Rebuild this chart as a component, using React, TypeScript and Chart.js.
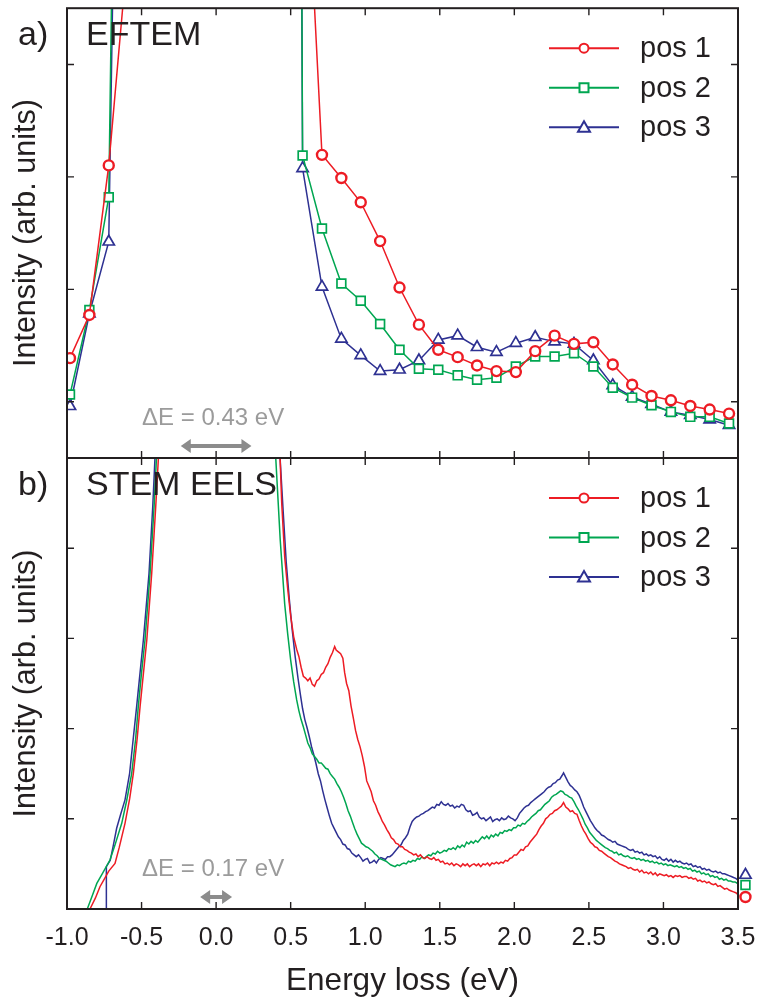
import React, { useEffect, useRef } from 'react';
import { Chart, registerables } from 'chart.js';

Chart.register(...registerables);

const FONT = "'Liberation Sans', Arial, Helvetica, sans-serif";
const INK = '#231f20';
const RED = '#ed1c24';
const GREEN = '#00a651';
const BLUE = '#2e3192';
const GREY_TEXT = '#9b9b9b';
const GREY_ARROW = '#8c8c8c';

const xTickValues = [-1.0, -0.5, 0.0, 0.5, 1.0, 1.5, 2.0, 2.5, 3.0, 3.5];
const xTickLabels = ['-1.0', '-0.5', '0.0', '0.5', '1.0', '1.5', '2.0', '2.5', '3.0', '3.5'];
const seriesNames = ['pos 1', 'pos 2', 'pos 3'];
const panelLabels = ['a)', 'b)'];
const panelTitles = ['EFTEM', 'STEM EELS'];
const energyResolution = [0.43, 0.17];
const xAxisTitle = 'Energy loss (eV)';
const yAxisTitle = 'Intensity (arb. units)';

// (a) EFTEM – energy-filtered series on a common energy grid
const eftemEnergy = [-0.98, -0.85, -0.72, -0.59, -0.46, -0.33, -0.20, -0.07, 0.06, 0.19, 0.32, 0.45, 0.58,
  0.71, 0.84, 0.97, 1.10, 1.23, 1.36, 1.49, 1.62, 1.75, 1.88, 2.01, 2.14, 2.27, 2.40, 2.53, 2.66, 2.79,
  2.92, 3.05, 3.18, 3.31, 3.44];
const eftemPos1 = [0.888, 1.272, 2.602, 4.55, 14, 40, 80, 100, 100, 70, 35, 15, 6.1,
  2.696, 2.49, 2.274, 1.929, 1.516, 1.186, 0.962, 0.897, 0.823, 0.773, 0.764, 0.95, 1.088, 1.015, 1.029,
  0.832, 0.652, 0.552, 0.513, 0.463, 0.431, 0.395];
const eftemPos2 = [0.564, 1.316, 2.319, 14.6, 40, 80, 100, 100, 100, 100, 80, 40, 2.69,
  2.041, 1.552, 1.398, 1.192, 0.962, 0.793, 0.785, 0.735, 0.696, 0.714, 0.814, 0.903, 0.903, 0.932, 0.814,
  0.625, 0.537, 0.469, 0.41, 0.366, 0.366, 0.307];
const eftemPos3 = [0.46, 1.283, 1.923, 12.7, 40, 80, 100, 100, 100, 100, 80, 40, 2.575,
  1.522, 1.059, 0.912, 0.773, 0.785, 0.867, 1.05, 1.088, 0.985, 0.941, 1.021, 1.074, 1.035, 1.015, 0.867,
  0.646, 0.543, 0.478, 0.41, 0.381, 0.342, 0.292];

// (b) STEM EELS – [energy (eV), intensity]
const stemPos1: [number, number][] = [
  [-0.87, -0.05], [-0.846, 0], [-0.81, 0.12], [-0.779, 0.247], [-0.75, 0.33], [-0.72, 0.42], [-0.678, 0.506],
  [-0.65, 0.68], [-0.611, 0.95], [-0.58, 1.22], [-0.555, 1.504], [-0.53, 1.88], [-0.51, 2.243], [-0.487, 2.62],
  [-0.465, 2.98], [-0.432, 3.72], [-0.405, 4.46], [-0.387, 5.0], [-0.3, 9], [-0.2, 20], [0, 40], [0.2, 20],
  [0.35, 8], [0.429, 5.0], [0.44, 4.5], [0.46, 3.9], [0.48, 3.55], [0.5, 3.25], [0.52, 3.02], [0.54, 2.88],
  [0.555, 2.8], [0.57, 2.68], [0.585, 2.58], [0.6, 2.56], [0.615, 2.53], [0.63, 2.56], [0.645, 2.49],
  [0.66, 2.47], [0.675, 2.53], [0.69, 2.55], [0.705, 2.6], [0.72, 2.62], [0.735, 2.68], [0.75, 2.72],
  [0.765, 2.79], [0.78, 2.84], [0.795, 2.91], [0.805, 2.87], [0.82, 2.85], [0.835, 2.83], [0.85, 2.78],
  [0.862, 2.62], [0.875, 2.5], [0.89, 2.42], [0.905, 2.25], [0.92, 2.12], [0.935, 1.98], [0.95, 1.88],
  [0.965, 1.8], [0.98, 1.7], [0.995, 1.58], [1.01, 1.42], [1.025, 1.36], [1.04, 1.3], [1.055, 1.2],
  [1.07, 1.15], [1.085, 1.08], [1.1, 1.03], [1.115, 0.97], [1.13, 0.93], [1.145, 0.88], [1.16, 0.84],
  [1.175, 0.79], [1.19, 0.77], [1.205, 0.73], [1.22, 0.72], [1.235, 0.69], [1.25, 0.69], [1.265, 0.66],
  [1.28, 0.65], [1.295, 0.63], [1.31, 0.62], [1.325, 0.6], [1.34, 0.61], [1.355, 0.58], [1.37, 0.6],
  [1.385, 0.57], [1.4, 0.56], [1.415, 0.58], [1.43, 0.56], [1.445, 0.55], [1.46, 0.57], [1.475, 0.54],
  [1.49, 0.55], [1.505, 0.52], [1.52, 0.53], [1.535, 0.5], [1.55, 0.51], [1.565, 0.49], [1.58, 0.51],
  [1.595, 0.48], [1.61, 0.5], [1.625, 0.49], [1.64, 0.47], [1.655, 0.5], [1.67, 0.48], [1.685, 0.5],
  [1.7, 0.47], [1.715, 0.49], [1.73, 0.5], [1.745, 0.48], [1.76, 0.5], [1.775, 0.47], [1.79, 0.5],
  [1.805, 0.49], [1.82, 0.51], [1.835, 0.48], [1.85, 0.51], [1.865, 0.5], [1.88, 0.52], [1.895, 0.5],
  [1.91, 0.52], [1.925, 0.51], [1.94, 0.54], [1.955, 0.53], [1.97, 0.56], [1.985, 0.57], [2.0, 0.6],
  [2.015, 0.6], [2.03, 0.63], [2.045, 0.66], [2.06, 0.65], [2.075, 0.69], [2.09, 0.7], [2.105, 0.74],
  [2.12, 0.77], [2.135, 0.8], [2.15, 0.83], [2.165, 0.88], [2.18, 0.92], [2.195, 0.95], [2.21, 1.0],
  [2.225, 1.02], [2.24, 1.05], [2.255, 1.06], [2.27, 1.09], [2.285, 1.1], [2.3, 1.12], [2.315, 1.14],
  [2.33, 1.18], [2.345, 1.13], [2.36, 1.11], [2.375, 1.08], [2.39, 1.09], [2.405, 1.06], [2.42, 1.05],
  [2.435, 0.98], [2.45, 0.92], [2.465, 0.87], [2.48, 0.83], [2.495, 0.78], [2.51, 0.74], [2.525, 0.72],
  [2.54, 0.69], [2.555, 0.68], [2.57, 0.65], [2.585, 0.64], [2.6, 0.62], [2.615, 0.6], [2.63, 0.58],
  [2.645, 0.57], [2.66, 0.55], [2.675, 0.53], [2.69, 0.52], [2.705, 0.5], [2.72, 0.49], [2.735, 0.48],
  [2.75, 0.47], [2.765, 0.45], [2.78, 0.46], [2.795, 0.44], [2.81, 0.43], [2.825, 0.44], [2.84, 0.41],
  [2.855, 0.43], [2.87, 0.4], [2.885, 0.41], [2.9, 0.39], [2.915, 0.41], [2.93, 0.38], [2.945, 0.4],
  [2.96, 0.37], [2.975, 0.39], [2.99, 0.38], [3.005, 0.37], [3.02, 0.38], [3.035, 0.36], [3.05, 0.37],
  [3.065, 0.35], [3.08, 0.37], [3.095, 0.36], [3.11, 0.37], [3.125, 0.35], [3.14, 0.36], [3.155, 0.36],
  [3.17, 0.34], [3.185, 0.35], [3.2, 0.33], [3.215, 0.34], [3.23, 0.31], [3.245, 0.32], [3.26, 0.3],
  [3.275, 0.31], [3.29, 0.29], [3.305, 0.3], [3.32, 0.28], [3.335, 0.27], [3.35, 0.28], [3.365, 0.25],
  [3.38, 0.26], [3.395, 0.24], [3.41, 0.22], [3.425, 0.23], [3.44, 0.21], [3.455, 0.2], [3.47, 0.19],
  [3.485, 0.18], [3.5, 0.16], [3.55, 0.13],
];
const stemPos2: [number, number][] = [
  [-0.88, -0.05], [-0.864, 0], [-0.83, 0.15], [-0.8, 0.284], [-0.76, 0.4], [-0.712, 0.543], [-0.68, 0.7],
  [-0.633, 0.95], [-0.6, 1.2], [-0.566, 1.504], [-0.54, 1.88], [-0.522, 2.243], [-0.5, 2.62], [-0.477, 2.98],
  [-0.443, 3.72], [-0.416, 4.46], [-0.4, 5.0], [-0.3, 10], [-0.2, 20], [0, 40], [0.2, 20], [0.33, 8],
  [0.4, 5.0], [0.43, 4.09], [0.46, 3.38], [0.48, 3.05], [0.5, 2.76], [0.52, 2.52], [0.54, 2.32], [0.555, 2.2],
  [0.57, 2.1], [0.585, 2.02], [0.6, 1.93], [0.615, 1.84], [0.63, 1.79], [0.645, 1.72], [0.66, 1.69],
  [0.675, 1.66], [0.69, 1.62], [0.705, 1.62], [0.72, 1.59], [0.735, 1.56], [0.75, 1.55], [0.765, 1.5],
  [0.78, 1.47], [0.795, 1.44], [0.81, 1.39], [0.825, 1.35], [0.84, 1.3], [0.855, 1.24], [0.87, 1.17],
  [0.885, 1.09], [0.9, 1.03], [0.915, 0.96], [0.93, 0.89], [0.945, 0.83], [0.96, 0.78], [0.975, 0.73],
  [0.99, 0.71], [1.005, 0.69], [1.02, 0.68], [1.035, 0.66], [1.05, 0.64], [1.065, 0.61], [1.08, 0.59],
  [1.095, 0.56], [1.11, 0.55], [1.125, 0.54], [1.14, 0.53], [1.155, 0.51], [1.17, 0.49], [1.185, 0.48],
  [1.2, 0.47], [1.215, 0.49], [1.23, 0.48], [1.245, 0.5], [1.26, 0.51], [1.275, 0.5], [1.29, 0.53],
  [1.305, 0.52], [1.32, 0.54], [1.335, 0.53], [1.35, 0.56], [1.365, 0.55], [1.38, 0.58], [1.395, 0.56],
  [1.41, 0.58], [1.425, 0.6], [1.44, 0.59], [1.455, 0.62], [1.47, 0.61], [1.485, 0.64], [1.5, 0.62],
  [1.515, 0.63], [1.53, 0.65], [1.545, 0.64], [1.56, 0.67], [1.575, 0.66], [1.59, 0.68], [1.605, 0.66],
  [1.62, 0.7], [1.635, 0.68], [1.65, 0.71], [1.665, 0.69], [1.68, 0.74], [1.695, 0.72], [1.71, 0.75],
  [1.725, 0.73], [1.74, 0.76], [1.755, 0.74], [1.77, 0.77], [1.785, 0.8], [1.8, 0.78], [1.815, 0.81],
  [1.83, 0.78], [1.845, 0.82], [1.86, 0.8], [1.875, 0.83], [1.89, 0.81], [1.905, 0.85], [1.92, 0.84],
  [1.935, 0.87], [1.95, 0.86], [1.965, 0.88], [1.98, 0.87], [1.995, 0.9], [2.01, 0.9], [2.025, 0.93],
  [2.04, 0.92], [2.055, 0.95], [2.07, 0.94], [2.085, 0.97], [2.1, 0.99], [2.115, 1.02], [2.13, 1.04],
  [2.145, 1.06], [2.16, 1.09], [2.175, 1.1], [2.19, 1.13], [2.205, 1.16], [2.22, 1.18], [2.235, 1.2],
  [2.25, 1.24], [2.265, 1.26], [2.28, 1.27], [2.295, 1.29], [2.31, 1.31], [2.325, 1.3], [2.34, 1.27],
  [2.355, 1.26], [2.37, 1.24], [2.385, 1.23], [2.4, 1.19], [2.415, 1.14], [2.43, 1.1], [2.445, 1.05],
  [2.46, 1.0], [2.475, 0.94], [2.49, 0.9], [2.505, 0.85], [2.52, 0.82], [2.535, 0.79], [2.55, 0.76],
  [2.565, 0.74], [2.58, 0.72], [2.595, 0.7], [2.61, 0.68], [2.625, 0.67], [2.64, 0.65], [2.655, 0.64],
  [2.67, 0.62], [2.685, 0.63], [2.7, 0.6], [2.715, 0.61], [2.73, 0.59], [2.745, 0.58], [2.76, 0.59],
  [2.775, 0.57], [2.79, 0.56], [2.805, 0.57], [2.82, 0.55], [2.835, 0.56], [2.85, 0.54], [2.865, 0.55],
  [2.88, 0.53], [2.895, 0.54], [2.91, 0.52], [2.925, 0.53], [2.94, 0.51], [2.955, 0.52], [2.97, 0.5],
  [2.985, 0.51], [3.0, 0.49], [3.015, 0.5], [3.03, 0.48], [3.045, 0.49], [3.06, 0.48], [3.075, 0.47],
  [3.09, 0.48], [3.105, 0.46], [3.12, 0.47], [3.135, 0.45], [3.15, 0.46], [3.165, 0.44], [3.18, 0.45],
  [3.195, 0.42], [3.21, 0.43], [3.225, 0.41], [3.24, 0.42], [3.255, 0.39], [3.27, 0.4], [3.285, 0.38],
  [3.3, 0.39], [3.315, 0.36], [3.33, 0.37], [3.345, 0.35], [3.36, 0.36], [3.375, 0.33], [3.39, 0.34],
  [3.405, 0.32], [3.42, 0.33], [3.435, 0.31], [3.45, 0.31], [3.465, 0.3], [3.48, 0.3], [3.5, 0.28],
  [3.55, 0.26],
];
const stemPos3: [number, number][] = [
  [-0.738, -0.1], [-0.736, 0.47], [-0.71, 0.54], [-0.69, 0.7], [-0.667, 0.895], [-0.64, 1.05], [-0.611, 1.21],
  [-0.58, 1.504], [-0.555, 1.9], [-0.533, 2.243], [-0.51, 2.62], [-0.488, 2.98], [-0.45, 3.72], [-0.425, 4.46],
  [-0.41, 5.0], [-0.3, 11], [-0.2, 20], [0, 40], [0.2, 20], [0.35, 8], [0.429, 5.0], [0.45, 4.4],
  [0.47, 3.85], [0.49, 3.45], [0.51, 3.1], [0.53, 2.8], [0.55, 2.55], [0.565, 2.38], [0.58, 2.22],
  [0.595, 2.1], [0.61, 2.01], [0.625, 1.91], [0.64, 1.8], [0.655, 1.71], [0.67, 1.61], [0.685, 1.5],
  [0.7, 1.42], [0.715, 1.31], [0.73, 1.21], [0.745, 1.12], [0.76, 1.03], [0.775, 0.95], [0.79, 0.9],
  [0.805, 0.85], [0.82, 0.8], [0.835, 0.77], [0.85, 0.72], [0.865, 0.71], [0.88, 0.67], [0.895, 0.66],
  [0.91, 0.62], [0.925, 0.6], [0.94, 0.58], [0.955, 0.6], [0.97, 0.57], [0.985, 0.53], [1.0, 0.55],
  [1.015, 0.56], [1.03, 0.51], [1.045, 0.52], [1.06, 0.54], [1.075, 0.51], [1.09, 0.55], [1.105, 0.57],
  [1.12, 0.56], [1.135, 0.55], [1.15, 0.58], [1.165, 0.58], [1.18, 0.6], [1.195, 0.63], [1.21, 0.66],
  [1.225, 0.69], [1.24, 0.71], [1.255, 0.76], [1.27, 0.79], [1.285, 0.83], [1.3, 0.91], [1.315, 0.97],
  [1.33, 1.0], [1.345, 1.02], [1.36, 1.03], [1.375, 1.05], [1.39, 1.06], [1.405, 1.08], [1.42, 1.09],
  [1.435, 1.11], [1.45, 1.13], [1.465, 1.12], [1.48, 1.16], [1.495, 1.15], [1.51, 1.19], [1.525, 1.16],
  [1.54, 1.15], [1.555, 1.17], [1.57, 1.14], [1.585, 1.15], [1.6, 1.12], [1.615, 1.14], [1.63, 1.13],
  [1.645, 1.16], [1.66, 1.15], [1.675, 1.1], [1.69, 1.08], [1.705, 1.09], [1.72, 1.04], [1.735, 1.05],
  [1.75, 1.07], [1.765, 1.02], [1.78, 1.0], [1.795, 1.01], [1.81, 0.98], [1.825, 1.0], [1.84, 1.02],
  [1.855, 0.97], [1.87, 0.99], [1.885, 1.0], [1.9, 0.98], [1.915, 1.01], [1.93, 0.99], [1.945, 1.0],
  [1.96, 1.03], [1.975, 1.01], [1.99, 1.0], [2.005, 0.98], [2.02, 1.01], [2.035, 1.06], [2.05, 1.09],
  [2.065, 1.12], [2.08, 1.14], [2.095, 1.15], [2.11, 1.18], [2.125, 1.2], [2.14, 1.22], [2.155, 1.24],
  [2.17, 1.26], [2.185, 1.28], [2.2, 1.3], [2.215, 1.33], [2.23, 1.35], [2.245, 1.36], [2.26, 1.39],
  [2.275, 1.4], [2.29, 1.43], [2.305, 1.44], [2.32, 1.48], [2.33, 1.51], [2.345, 1.46], [2.36, 1.41],
  [2.375, 1.37], [2.39, 1.35], [2.405, 1.32], [2.42, 1.3], [2.435, 1.26], [2.45, 1.2], [2.465, 1.13],
  [2.48, 1.08], [2.495, 1.03], [2.51, 0.98], [2.525, 0.94], [2.54, 0.9], [2.555, 0.87], [2.57, 0.85],
  [2.585, 0.82], [2.6, 0.81], [2.615, 0.79], [2.63, 0.77], [2.645, 0.76], [2.66, 0.74], [2.675, 0.75],
  [2.69, 0.72], [2.705, 0.71], [2.72, 0.7], [2.735, 0.69], [2.75, 0.68], [2.765, 0.66], [2.78, 0.65],
  [2.795, 0.66], [2.81, 0.63], [2.825, 0.64], [2.84, 0.62], [2.855, 0.63], [2.87, 0.6], [2.885, 0.61],
  [2.9, 0.59], [2.915, 0.6], [2.93, 0.58], [2.945, 0.59], [2.96, 0.56], [2.975, 0.58], [2.99, 0.55],
  [3.005, 0.54], [3.02, 0.56], [3.035, 0.53], [3.05, 0.55], [3.065, 0.52], [3.08, 0.54], [3.095, 0.52],
  [3.11, 0.53], [3.125, 0.51], [3.14, 0.5], [3.155, 0.51], [3.17, 0.49], [3.185, 0.5], [3.2, 0.47],
  [3.215, 0.48], [3.23, 0.46], [3.245, 0.47], [3.26, 0.44], [3.275, 0.45], [3.29, 0.43], [3.305, 0.44],
  [3.32, 0.42], [3.335, 0.41], [3.35, 0.42], [3.365, 0.4], [3.38, 0.41], [3.395, 0.39], [3.41, 0.39],
  [3.425, 0.38], [3.44, 0.37], [3.455, 0.36], [3.47, 0.35], [3.485, 0.34], [3.5, 0.32], [3.55, 0.3],
];
const stemEndEnergy = 3.55;
const stemEndMarkers = [0.133, 0.266, 0.377];

const colors = [RED, GREEN, BLUE];
const markerStyles = ['circle', 'rect', 'triangle'];
const markerRadius = [5, 6.2, 6.5];

function drawMarker(ctx: CanvasRenderingContext2D, style: string, x: number, y: number, color: string) {
  ctx.save();
  ctx.strokeStyle = color;
  ctx.fillStyle = '#ffffff';
  ctx.lineWidth = 2;
  ctx.beginPath();
  if (style === 'circle') ctx.arc(x, y, 4.5, 0, Math.PI * 2);
  else if (style === 'rect') ctx.rect(x - 4.5, y - 4.5, 9, 9);
  else { ctx.moveTo(x, y - 6); ctx.lineTo(x + 6, y + 4.5); ctx.lineTo(x - 6, y + 4.5); ctx.closePath(); }
  ctx.fill();
  ctx.stroke();
  ctx.restore();
}

function drawDoubleArrow(ctx: CanvasRenderingContext2D, x1: number, x2: number, y: number) {
  const head = 10;
  const hh = 7;
  ctx.save();
  ctx.fillStyle = GREY_ARROW;
  ctx.beginPath();
  ctx.moveTo(x1, y);
  ctx.lineTo(x1 + head, y - hh);
  ctx.lineTo(x1 + head, y - 2);
  ctx.lineTo(x2 - head, y - 2);
  ctx.lineTo(x2 - head, y - hh);
  ctx.lineTo(x2, y);
  ctx.lineTo(x2 - head, y + hh);
  ctx.lineTo(x2 - head, y + 2);
  ctx.lineTo(x1 + head, y + 2);
  ctx.lineTo(x1 + head, y + hh);
  ctx.closePath();
  ctx.fill();
  ctx.restore();
}

const panelPlugin = {
  id: 'panelDecor',
  afterDraw(chart: any, _args: any, opts: any) {
    const { ctx, chartArea: a } = chart;
    const xs = chart.scales.x;
    const ys = chart.scales.y;
    ctx.save();
    // frame
    ctx.strokeStyle = INK;
    ctx.lineWidth = 2;
    ctx.strokeRect(a.left, a.top, a.right - a.left, a.bottom - a.top);
    // inward ticks
    ctx.lineWidth = 1.4;
    ctx.beginPath();
    xTickValues.forEach((v) => {
      const px = xs.getPixelForValue(v);
      if (px < a.left + 3 || px > a.right - 3) return;
      ctx.moveTo(px, a.top); ctx.lineTo(px, a.top + 7);
      ctx.moveTo(px, a.bottom); ctx.lineTo(px, a.bottom - 7);
    });
    opts.yTicks.forEach((v: number) => {
      const py = ys.getPixelForValue(v);
      ctx.moveTo(a.left, py); ctx.lineTo(a.left + 7, py);
      ctx.moveTo(a.right, py); ctx.lineTo(a.right - 7, py);
    });
    ctx.stroke();

    // panel label and title
    ctx.fillStyle = INK;
    ctx.font = `34px ${FONT}`;
    ctx.textAlign = 'left';
    ctx.textBaseline = 'alphabetic';
    ctx.fillText(opts.label, 18, a.top + 37);
    ctx.fillText(opts.title, 86, a.top + 37);

    // energy resolution annotation
    const x0 = xs.getPixelForValue(0);
    ctx.fillStyle = GREY_TEXT;
    ctx.font = `24px ${FONT}`;
    ctx.textAlign = 'center';
    ctx.fillText(`\u0394E = ${opts.dE.toFixed(2)} eV`, x0 - 3, a.bottom - 33);
    const half = opts.dE / 2 + 0.022;
    drawDoubleArrow(ctx, xs.getPixelForValue(-half), xs.getPixelForValue(half), a.bottom - 12);

    // legend
    ctx.font = `29px ${FONT}`;
    ctx.textAlign = 'left';
    ctx.textBaseline = 'middle';
    seriesNames.forEach((name, i) => {
      const yy = a.top + 40 + i * 39.5;
      ctx.strokeStyle = colors[i];
      ctx.lineWidth = 2;
      ctx.beginPath();
      ctx.moveTo(549, yy); ctx.lineTo(619, yy);
      ctx.stroke();
      drawMarker(ctx, markerStyles[i], 584, yy, colors[i]);
      ctx.fillStyle = INK;
      ctx.fillText(name, 640, yy + 1);
    });
    ctx.restore();
  },
};

const xScale = (showLabels: boolean) => ({
  type: 'linear' as const,
  min: -1.0,
  max: 3.5,
  display: showLabels,
  grid: { display: false, drawTicks: false },
  border: { display: false },
  afterBuildTicks: (scale: any) => { scale.ticks = xTickValues.map((v) => ({ value: v })); },
  afterFit: (scale: any) => {
    scale.height = showLabels ? 93 : 0;
    scale.paddingLeft = 0;
    scale.paddingRight = 0;
  },
  ticks: {
    autoSkip: false,
    maxRotation: 0,
    padding: 14,
    color: INK,
    font: { family: FONT, size: 25 },
    callback: (_v: any, i: number) => xTickLabels[i],
  },
  title: {
    display: showLabels,
    text: xAxisTitle,
    color: INK,
    font: { family: FONT, size: 31.5 },
    padding: { top: 0, bottom: 2 },
  },
});

const yScale = (max: number) => ({
  type: 'linear' as const,
  min: 0,
  max,
  grid: { display: false, drawTicks: false },
  border: { display: false },
  ticks: { display: false },
  afterFit: (scale: any) => {
    scale.width = 67;
    scale.paddingTop = 0;
    scale.paddingBottom = 0;
  },
  title: {
    display: true,
    text: yAxisTitle,
    color: INK,
    font: { family: FONT, size: 30.5 },
    padding: { top: 8.5, bottom: 0 },
  },
});

function eftemConfig(): any {
  const series = [eftemPos1, eftemPos2, eftemPos3];
  return {
    type: 'line',
    data: {
      datasets: series.map((vals, i) => ({
        label: seriesNames[i],
        data: eftemEnergy.map((x, k) => ({ x, y: vals[k] })),
        borderColor: colors[i],
        borderWidth: 1.5,
        pointStyle: markerStyles[i],
        pointRadius: markerRadius[i],
        pointBorderWidth: i === 0 ? 2.4 : 1.7,
        pointBorderColor: colors[i],
        pointBackgroundColor: '#ffffff',
        tension: 0,
        fill: false,
      })),
    },
    options: {
      animation: false,
      responsive: false,
      events: [],
      layout: { padding: { top: 6, bottom: 544, left: 0, right: 21 } },
      scales: { x: xScale(false), y: yScale(4) },
      plugins: {
        legend: { display: false },
        tooltip: { enabled: false },
        panelDecor: { yTicks: [0.5, 1.5, 2.5, 3.5], label: panelLabels[0], title: panelTitles[0], dE: energyResolution[0] },
      },
    },
    plugins: [panelPlugin],
  };
}

function stemConfig(): any {
  const series = [stemPos1, stemPos2, stemPos3];
  const lines = series.map((pts, i) => ({
    label: seriesNames[i],
    data: pts.map(([x, y]) => ({ x, y })),
    borderColor: colors[i],
    borderWidth: 1.5,
    pointRadius: 0,
    tension: 0,
    fill: false,
  }));
  const ends = stemEndMarkers.map((v, i) => ({
    label: seriesNames[i] + ' marker',
    data: [{ x: stemEndEnergy, y: v }],
    showLine: false,
    clip: false,
    pointStyle: markerStyles[i],
    pointRadius: markerRadius[i],
    pointHoverRadius: 14,
    pointBorderWidth: i === 0 ? 2.4 : 1.7,
    pointBorderColor: colors[i],
    pointBackgroundColor: '#ffffff',
    borderColor: colors[i],
  }));
  return {
    type: 'line',
    data: { datasets: [...lines, ...ends] },
    options: {
      animation: false,
      responsive: false,
      events: [],
      layout: { padding: { top: 458, bottom: 0, left: 0, right: 21 } },
      scales: { x: xScale(true), y: yScale(5) },
      plugins: {
        legend: { display: false },
        tooltip: { enabled: false },
        panelDecor: { yTicks: [1, 2, 3, 4], label: panelLabels[1], title: panelTitles[1], dE: energyResolution[1] },
      },
    },
    plugins: [panelPlugin],
  };
}

export default function App() {
  const topRef = useRef<HTMLCanvasElement>(null);
  const botRef = useRef<HTMLCanvasElement>(null);
  useEffect(() => {
    const c1 = new Chart(topRef.current as HTMLCanvasElement, eftemConfig());
    const c2 = new Chart(botRef.current as HTMLCanvasElement, stemConfig());
    return () => { c1.destroy(); c2.destroy(); };
  }, []);
  const cs: React.CSSProperties = { position: 'absolute', left: 0, top: 0, width: 759, height: 1002 };
  return (
    <div style={{ position: 'absolute', left: 0, top: 0, width: 759, height: 1002, background: '#ffffff', overflow: 'hidden' }}>
      <canvas ref={topRef} width={759} height={1002} style={cs} />
      <canvas ref={botRef} width={759} height={1002} style={cs} />
    </div>
  );
}
